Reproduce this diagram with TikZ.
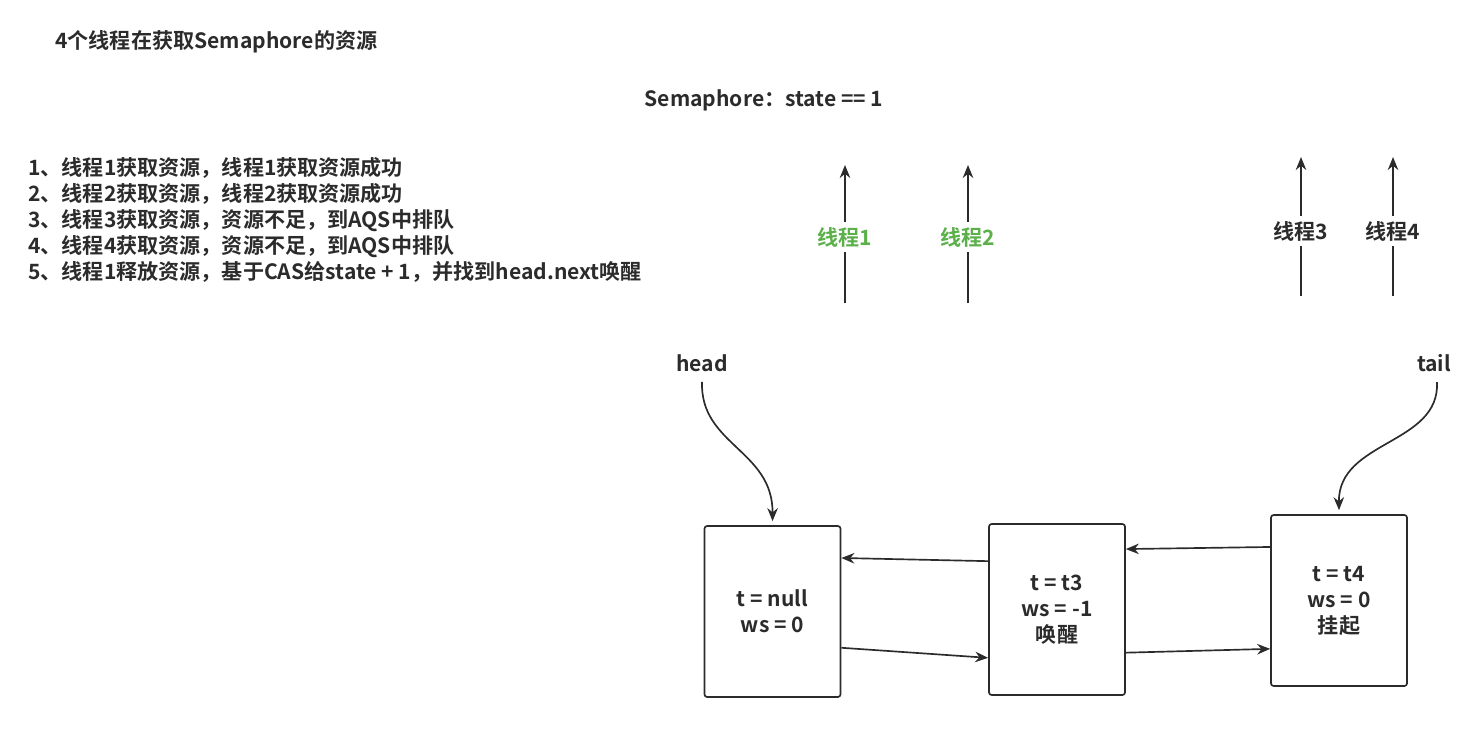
\documentclass[tikz,border=0pt]{standalone}
\usepackage{fontspec}
\setmainfont{Noto Sans CJK SC}[BoldFont={Noto Sans CJK SC Bold}]
\usetikzlibrary{arrows.meta,calc}
\definecolor{okgreen}{HTML}{5BB04A}
\definecolor{ink}{HTML}{2B2B2B}
\tikzset{
  txt/.style={font=\bfseries\fontsize{12}{14.8}\selectfont, text=ink, inner sep=0pt},
  nodebox/.style={draw=ink, line width=0.95pt, rounded corners=1.5pt, minimum width=27.2mm,
    minimum height=34.2mm, align=center, txt, font=\bfseries\fontsize{12}{14.8}\selectfont},
  link/.style={draw=ink, line width=0.95pt, -{Stealth[length=2.6mm,width=2.1mm]}},
  thread/.style={txt, fill=white, inner ysep=3pt}
}
\begin{document}
\begin{tikzpicture}[x=0.2mm,y=-0.2mm]
  \useasboundingbox (0,0) rectangle (1476,740);

  % Titel und Zustand
  \node[txt, anchor=west] (title) at (55,42) {4个线程在获取Semaphore的资源};
  \node[txt] (state) at (764,100) {Semaphore：state == 1};

  % Schritte
  \node[txt, anchor=north west, align=left] (steps) at (28,157) {%
    1、线程1获取资源，线程1获取资源成功\\
    2、线程2获取资源，线程2获取资源成功\\
    3、线程3获取资源，资源不足，到AQS中排队\\
    4、线程4获取资源，资源不足，到AQS中排队\\
    5、线程1释放资源，基于CAS给state + 1，并找到head.next唤醒};

  % Threads
  \coordinate (t1a) at (845,303); \coordinate (t1b) at (845,165);
  \coordinate (t2a) at (968,303); \coordinate (t2b) at (968,165);
  \coordinate (t3a) at (1301,296); \coordinate (t3b) at (1301,157);
  \coordinate (t4a) at (1393,296); \coordinate (t4b) at (1393,157);
  \draw[link] (t1a) -- (t1b);
  \draw[link] (t2a) -- (t2b);
  \draw[link] (t3a) -- (t3b);
  \draw[link] (t4a) -- (t4b);
  \node[thread, text=okgreen] (th1) at (845,237) {线程1};
  \node[thread, text=okgreen] (th2) at (968,237) {线程2};
  \node[thread] (th3) at (1301,231) {线程3};
  \node[thread] (th4) at (1393,231) {线程4};

  % Warteschlange
  \node[nodebox] (n1) at (772.5,611.5) {t = null\\ws = 0};
  \node[nodebox] (n2) at (1057,609.5) {t = t3\\ws = -1\\唤醒};
  \node[nodebox] (n3) at (1339,600.5) {t = t4\\ws = 0\\挂起};

  \node[txt] (head) at (702,363) {head};
  \node[txt] (tail) at (1434,363) {tail};
  \draw[link] (head.south) ++(0,10) .. controls (700,445) and (773,450) .. ($(n1.north)+(0,-4)$);
  \draw[link] (tail.south) ++(3,10) .. controls (1440,445) and (1338,440) .. ($(n3.north)+(0,-4)$);

  \draw[link] ($(n2.north west)!0.22!(n2.south west)$) -- ($(n1.north east)!0.19!(n1.south east)$);
  \draw[link] ($(n1.north east)!0.71!(n1.south east)$) -- ($(n2.north west)!0.78!(n2.south west)$);
  \draw[link] ($(n3.north west)!0.19!(n3.south west)$) -- ($(n2.north east)!0.15!(n2.south east)$);
  \draw[link] ($(n2.north east)!0.75!(n2.south east)$) -- ($(n3.north west)!0.78!(n3.south west)$);
\end{tikzpicture}
\end{document}
